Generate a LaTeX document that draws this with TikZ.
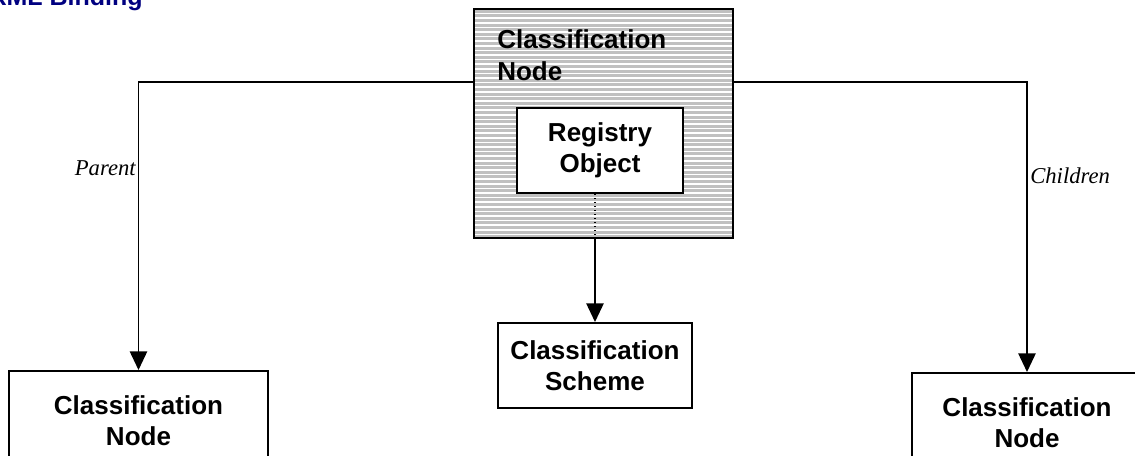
\documentclass[tikz,border=0pt]{standalone}
\usepackage{fontspec}
\setmainfont{Liberation Serif}
\setsansfont{Liberation Sans}
\usetikzlibrary{arrows.meta,calc}
\definecolor{navy}{RGB}{0,0,128}
\definecolor{hatchgray}{RGB}{192,192,192}
\newcommand{\px}{0.75pt}
\tikzset{
  box/.style={draw, line width=1.5pt, fill=white, align=center, inner sep=0pt,
    font=\sffamily\bfseries\fontsize{19.5}{23}\selectfont},
  hatchbox/.style={draw, line width=1.5pt, fill=hatchgray, inner sep=0pt,
    path picture={
      \foreach \k in {1,...,50}
        \draw[white, line width=1.1pt] ($(path picture bounding box.north west)+(0,\k*4.6)$) -- ++(270,0);
    }},
  conn/.style={line width=1.2pt, -{Triangle[length=14pt,width=13pt]}},
  role/.style={font=\itshape\fontsize{17}{20}\selectfont, inner sep=0pt}
}
\begin{document}
\begin{tikzpicture}[x=0.75pt,y=-0.75pt]
        \useasboundingbox (0,0) rectangle (1135,455);
        % Title, cut at the top and left edge
        \node[anchor=base east, inner sep=0pt, text=navy, font=\sffamily\bfseries\fontsize{18.75}{22}\selectfont] (title) at (143,5) {XML Binding};

        % Main node with the inner registry object
        \node[hatchbox, minimum width=259*\px, minimum height=229*\px] (cnode) at (603.5,123.5) {};
        \node[anchor=north west, align=left, inner sep=0pt, font=\sffamily\bfseries\fontsize{19.5}{24}\selectfont] (cnlabel) at (497,29) {Classification\\Node};
        \node[box, minimum width=166*\px, minimum height=85*\px] (robj) at (600,150.5) {Registry\\Object};

        % Related nodes below
        \node[box, minimum width=194*\px, minimum height=85*\px] (scheme) at (595,365.5) {Classification\\Scheme};
        \node[box, minimum width=259*\px, minimum height=100*\px] (parent) at (138.5,421) {Classification\\Node};
        \node[box, minimum width=230*\px, minimum height=100*\px] (child) at (1027,423) {Classification\\Node};

        % Connectors
        \coordinate (tier) at (0,82);
        \draw[conn] (cnode.west |- tier) -| (parent.north);
        \draw[conn] (cnode.east |- tier) -| (child.north);
        \draw[line width=1pt, dotted] (robj.south -| scheme.north) -- (cnode.south -| scheme.north);
        \draw[conn] (cnode.south -| scheme.north) -- (scheme.north);

        % Role labels
        \node[role, anchor=base east] (plabel) at (136,175) {Parent};
        \node[role, anchor=base west] (clabel) at (1030,183) {Children};
\end{tikzpicture}
\end{document}
